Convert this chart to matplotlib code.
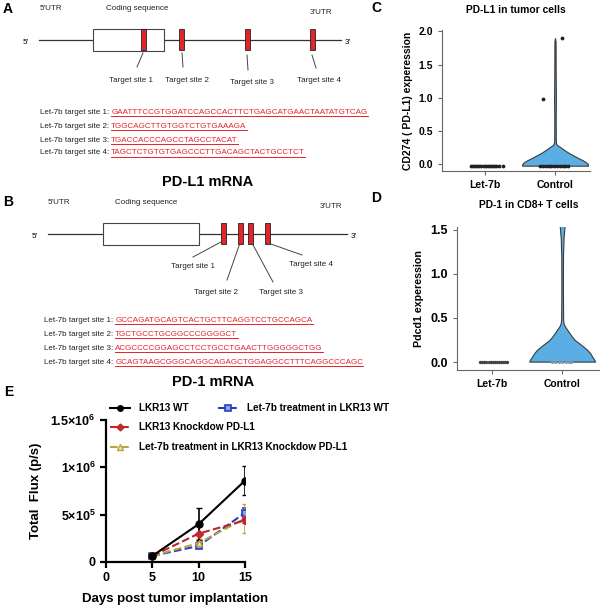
import matplotlib
matplotlib.use("Agg")
import matplotlib.pyplot as plt
from matplotlib import font_manager
from matplotlib.patches import Rectangle
from matplotlib.lines import Line2D
import numpy as np

plt.rcParams['font.family'] = ['Liberation Sans', 'DejaVu Sans']
plt.rcParams['mathtext.fontset'] = 'custom'
plt.rcParams['mathtext.rm'] = 'Liberation Sans'
plt.rcParams['mathtext.bf'] = 'Liberation Sans:bold'


def have_font(name):
    try:
        font_manager.findfont(font_manager.FontProperties(family=name), fallback_to_default=False)
        return True
    except ValueError:
        return False


NARROW = 'Liberation Sans Narrow' if have_font('Liberation Sans Narrow') else 'Liberation Sans'
NS = 7 if NARROW == 'Liberation Sans Narrow' else 5.8

# ---- panel A / B: target sites ----
pdl1_seqs = ["GAATTTCCGTGGATCCAGCCACTTCTGAGCATGAACTAATATGTCAG",
             "TGGCAGCTTGTGGTCTGTGAAAGA",
             "TGACCACCCAGCCTAGCCTACAT",
             "TAGCTCTGTGTGAGCCCTTGACAGCTACTGCCTCT"]
pd1_seqs = ["GCCAGATGCAGTCACTGCTTCAGGTCCTGCCAGCA",
            "TGCTGCCTGCGGCCCGGGGCT",
            "ACGCCCCGGAGCCTCCTGCCTGAACTTGGGGGCTGG",
            "GCAGTAAGCGGGCAGGCAGAGCTGGAGGCCTTTCAGGCCCAGC"]
site_names = ["Target site 1", "Target site 2", "Target site 3", "Target site 4"]
pdl1_sites = [143, 181, 247, 312]
pd1_sites = [223, 240, 250, 267]

# ---- panel C / D: violins ----
groups = ["Let-7b", "Control"]
c_ctrl_y = [-0.02, 0.0, 0.02, 0.04, 0.065, 0.09, 0.13, 0.17, 0.21, 0.24, 0.27, 0.29, 0.31, 0.35,
            0.7, 1.0, 1.3, 1.85, 1.9]
c_ctrl_w = [0.47, 0.47, 0.455, 0.43, 0.39, 0.34, 0.27, 0.20, 0.14, 0.10, 0.06, 0.03, 0.017, 0.011,
            0.010, 0.013, 0.010, 0.008, 0.0]
c_let_dots_x = [-0.2, -0.17, -0.14, -0.11, -0.08, -0.05, -0.02, 0.01, 0.04, 0.07, 0.1, 0.13, 0.16, 0.2, 0.26]
c_let_dots_y = [-0.02] * 15
c_ctrl_dots_x = [-0.21, -0.17, -0.13, -0.09, -0.05, -0.01, 0.03, 0.07, 0.11, 0.15, 0.19, -0.17, 0.1]
c_ctrl_dots_y = [-0.02] * 11 + [0.98, 1.9]

d_ctrl_y = [0.005, 0.03, 0.06, 0.10, 0.137, 0.19, 0.25, 0.30, 0.345, 0.38, 0.41, 0.44, 0.48,
            0.8, 1.2, 1.4, 1.5, 1.6]
d_ctrl_w = [0.47, 0.455, 0.43, 0.40, 0.36, 0.28, 0.18, 0.13, 0.09, 0.06, 0.035, 0.02, 0.014,
            0.011, 0.012, 0.02, 0.03, 0.04]
d_let_dots_x = [-0.17, -0.14, -0.11, -0.08, -0.05, -0.02, 0.01, 0.04, 0.07, 0.1, 0.13, 0.16, 0.19, 0.21]
d_ctrl_dots_x = [-0.15, -0.1, -0.05, 0.0, 0.05, 0.1, 0.12]

# ---- panel E: tumour growth ----
days = [5, 10, 15]
wt = [6.4e4, 4.0e5, 8.6e5]
wt_err = [1.0e4, 1.7e5, 1.5e5]
let7b_wt = [6.4e4, 1.7e5, 5.2e5]
let7b_wt_err = [1.0e4, 2.5e4, 5.0e4]
kd = [6.4e4, 3.0e5, 4.4e5]
kd_err = [1.0e4, 8.0e4, 3.0e4]
let7b_kd = [6.4e4, 2.0e5, 4.6e5]
let7b_kd_err = [1.0e4, 4.0e4, 1.5e5]

fig = plt.figure(figsize=(6, 6.1), dpi=100)
ax0 = fig.add_axes([0, 0, 1, 1], zorder=-1)
ax0.set_xlim(0, 600)
ax0.set_ylim(610, 0)
ax0.axis('off')

RED = '#e3242b'
seq_pairs = []


def schematic(yl, x0, x1, box, sites, leaders, labels, heads, seqs, rows, lab_x, title, ty, letter, ly):
    ax0.plot([x0, x1], [yl, yl], color='#333333', lw=0.9)
    ax0.add_patch(Rectangle((box[0], yl - 11), box[1] - box[0], 22, facecolor='white',
                            edgecolor='#444444', lw=0.8, zorder=3))
    for s in sites:
        ax0.add_patch(Rectangle((s - 2.5, yl - 11), 5, 21, facecolor=RED, edgecolor='#222222',
                                lw=0.6, zorder=4))
    for (a, b, c, d) in leaders:
        ax0.plot([a, c], [b, d], color='#444444', lw=0.7)
    for name, (x, y) in zip(site_names, labels):
        ax0.text(x, y, name, ha='center', va='center', family=NARROW, fontsize=NS, color='#222222')
    for txt, (x, y) in heads:
        ax0.text(x, y, txt, ha='left', va='center', family=NARROW, fontsize=NS, color='#222222')
    ax0.text(x0 - 13, yl + 3, "5'", ha='center', va='center', family=NARROW, fontsize=NS)
    ax0.text(x1 + 7, yl + 3, "3'", ha='center', va='center', family=NARROW, fontsize=NS)
    for i, (sq, y) in enumerate(zip(seqs, rows)):
        lab = ax0.text(lab_x, y, "Let-7b target site %d:" % (i + 1), ha='left', va='center',
                       family=NARROW, fontsize=NS, color='#222222')
        t = ax0.text(lab_x + 68, y, sq, ha='left', va='center', family=NARROW, fontsize=NS,
                     color=RED)
        seq_pairs.append((lab, t, y))
    ax0.text(title[0], ty, title[1], ha='center', va='center', fontsize=10.5, fontweight='bold')
    ax0.text(8, ly, letter, ha='center', va='center', fontsize=10, fontweight='bold')


schematic(40, 39, 341, (93, 164), pdl1_sites,
          [(143, 53, 137, 67), (182, 53, 183, 67), (247, 55, 248, 70), (312, 55, 316, 68)],
          [(131, 80), (187, 80), (252, 82), (319, 80)],
          [("5'UTR", (40, 8)), ("Coding sequence", (106, 8)), ("3'UTR", (310, 13))],
          pdl1_seqs, [112, 126, 140, 153], 40, (208, "PD-L1 mRNA"), 182, "A", 9)

schematic(234, 48, 347, (103, 199), pd1_sites,
          [(221, 242, 193, 257), (240, 243, 227, 280), (252, 243, 273, 282), (268, 243, 302, 255)],
          [(193, 267), (216, 292), (281, 292), (311, 265)],
          [("5'UTR", (48, 203)), ("Coding sequence", (115, 203)), ("3'UTR", (320, 206))],
          pd1_seqs, [320, 334, 348, 362], 44, (213, "PD-1 mRNA"), 382, "B", 202)

ax0.text(376, 8, "C", ha='center', va='center', fontsize=10, fontweight='bold')
ax0.text(376, 198, "D", ha='center', va='center', fontsize=10, fontweight='bold')
ax0.text(9, 392, "E", ha='center', va='center', fontsize=10, fontweight='bold')


def style_violin_axes(ax, tick_size):
    for s in ['top', 'right']:
        ax.spines[s].set_visible(False)
    for s in ['left', 'bottom']:
        ax.spines[s].set_color('#666666')
        ax.spines[s].set_linewidth(0.8)
    ax.tick_params(colors='#666666', length=3, width=0.8)
    ax.set_xticks([0, 1])
    ax.set_xticklabels(groups, fontsize=7.5, fontweight='bold', color='black')
    for lab in ax.get_yticklabels():
        lab.set_fontsize(tick_size)
        lab.set_fontweight('bold')
        lab.set_color('black')


# ---- C ----
axc = fig.add_axes([442 / 600, 1 - 171 / 610, 148 / 600, 141 / 610])
axc.fill_betweenx(c_ctrl_y, 1 - np.array(c_ctrl_w), 1 + np.array(c_ctrl_w),
                  facecolor='#5aaee3', edgecolor='#3a3a3a', lw=0.8)
axc.scatter(c_let_dots_x, c_let_dots_y, s=3, color='#222222', zorder=3)
axc.scatter(1 + np.array(c_ctrl_dots_x), c_ctrl_dots_y, s=3, color='#222222', zorder=3)
axc.set_xlim(-0.614, 1.5)
axc.set_ylim(-0.1, 2.02)
axc.set_yticks([0, 0.5, 1.0, 1.5, 2.0])
axc.set_yticklabels(['0.0', '0.5', '1.0', '1.5', '2.0'])
style_violin_axes(axc, 7.5)
axc.set_ylabel("CD274 ( PD-L1) experession", fontsize=7.5, fontweight='bold', labelpad=4)
axc.set_title("PD-L1 in tumor cells", fontsize=7.4, fontweight='bold', pad=12)

# ---- D ----
axd = fig.add_axes([457 / 600, 1 - 370 / 610, 143 / 600, 143 / 610])
axd.fill_betweenx(d_ctrl_y, 1 - np.array(d_ctrl_w), 1 + np.array(d_ctrl_w),
                  facecolor='#5aaee3', edgecolor='#3a3a3a', lw=0.8)
axd.scatter(d_let_dots_x, [0.005] * len(d_let_dots_x), s=2, color='#444444', zorder=3)
axd.scatter(1 + np.array(d_ctrl_dots_x), [0.005] * len(d_ctrl_dots_x), s=1.5,
            color='#7a9ab0', zorder=3)
axd.set_xlim(-0.5, 1.54)
axd.set_ylim(-0.09, 1.53)
axd.set_yticks([0, 0.5, 1.0, 1.5])
axd.set_yticklabels(['0.0', '0.5', '1.0', '1.5'])
style_violin_axes(axd, 9)
axd.set_ylabel("Pdcd1 experession", fontsize=7.7, fontweight='bold', labelpad=5)
axd.set_title("PD-1 in CD8+ T cells", fontsize=7.4, fontweight='bold', pad=14)

# ---- E ----
styles = {
    'wt': dict(color='black', ls='-', marker='o', ms=5, mfc='black', mec='black', mew=1.0),
    'let7b_wt': dict(color='#2a3cb8', ls='--', marker='s', ms=5, mfc='#8fa0e6', mec='#2a3cb8', mew=1.2),
    'kd': dict(color='#b9272b', ls='--', marker='D', ms=4.5, mfc='#c42a2a', mec='#b9272b', mew=1.0),
    'let7b_kd': dict(color='#b8a443', ls='--', marker='^', ms=5, mfc='#efe4a8', mec='#b8a443', mew=1.0),
}
axe = fig.add_axes([106 / 600, 1 - 562 / 610, 139 / 600, 142 / 610])
kw = dict(lw=1.5, capsize=2.5, elinewidth=1.2, capthick=1.2)
axe.errorbar(days, let7b_wt, yerr=let7b_wt_err, **styles['let7b_wt'], **kw)
axe.errorbar(days, let7b_kd, yerr=let7b_kd_err, **styles['let7b_kd'], **kw)
axe.errorbar(days, kd, yerr=kd_err, **styles['kd'], **kw)
axe.errorbar(days, wt, yerr=wt_err, **styles['wt'], **kw)
axe.set_xlim(0, 15)
axe.set_ylim(0, 1.5e6)
for s in ['top', 'right']:
    axe.spines[s].set_visible(False)
for s in ['left', 'bottom']:
    axe.spines[s].set_linewidth(1.6)
axe.tick_params(length=4, width=1.6)
axe.set_xticks([0, 5, 10, 15])
axe.set_xticklabels(['0', '5', '10', '15'], fontsize=9, fontweight='bold')
axe.set_yticks([0, 5e5, 1e6, 1.5e6])
axe.set_yticklabels(['0', r'$\mathbf{5{\times}10^5}$', r'$\mathbf{1{\times}10^6}$',
                     r'$\mathbf{1.5{\times}10^6}$'], fontsize=9, fontweight='bold')
axe.set_xlabel("Days post tumor implantation", fontsize=9.5, fontweight='bold', labelpad=6)
axe.set_ylabel("Total  Flux (p/s)", fontsize=9.5, fontweight='bold', labelpad=6)


def handle(key):
    st = dict(styles[key])
    st['ms'] = st['ms'] - 1
    return Line2D([], [], lw=1.5, **st)


leg_kw = dict(frameon=False, prop={'weight': 'bold', 'size': 7.2}, handlelength=2.0,
              handletextpad=0.9, borderpad=0, borderaxespad=0, labelspacing=0.95)
fig.legend([handle('wt'), handle('kd'), handle('let7b_kd')],
           ['LKR13 WT', 'LKR13 Knockdow PD-L1', 'Let-7b treatment in LKR13 Knockdow PD-L1'],
           loc='upper left', bbox_to_anchor=(110 / 600, 1 - 403 / 610), **leg_kw)
fig.legend([handle('let7b_wt')], ['Let-7b treatment in LKR13 WT'],
           loc='upper left', bbox_to_anchor=(218 / 600, 1 - 403 / 610), **leg_kw)

# place sequences right after their labels and underline them
fig.canvas.draw()
for lab, t, y in seq_pairs:
    lb = lab.get_window_extent()
    t.set_x(lb.x1 + 2)
fig.canvas.draw()
for lab, t, y in seq_pairs:
    bb = t.get_window_extent()
    yu = 610 - bb.y0 + 0.5
    ax0.plot([bb.x0, bb.x1], [yu, yu], color=RED, lw=0.7)

fig.savefig("out.png", dpi=100)
